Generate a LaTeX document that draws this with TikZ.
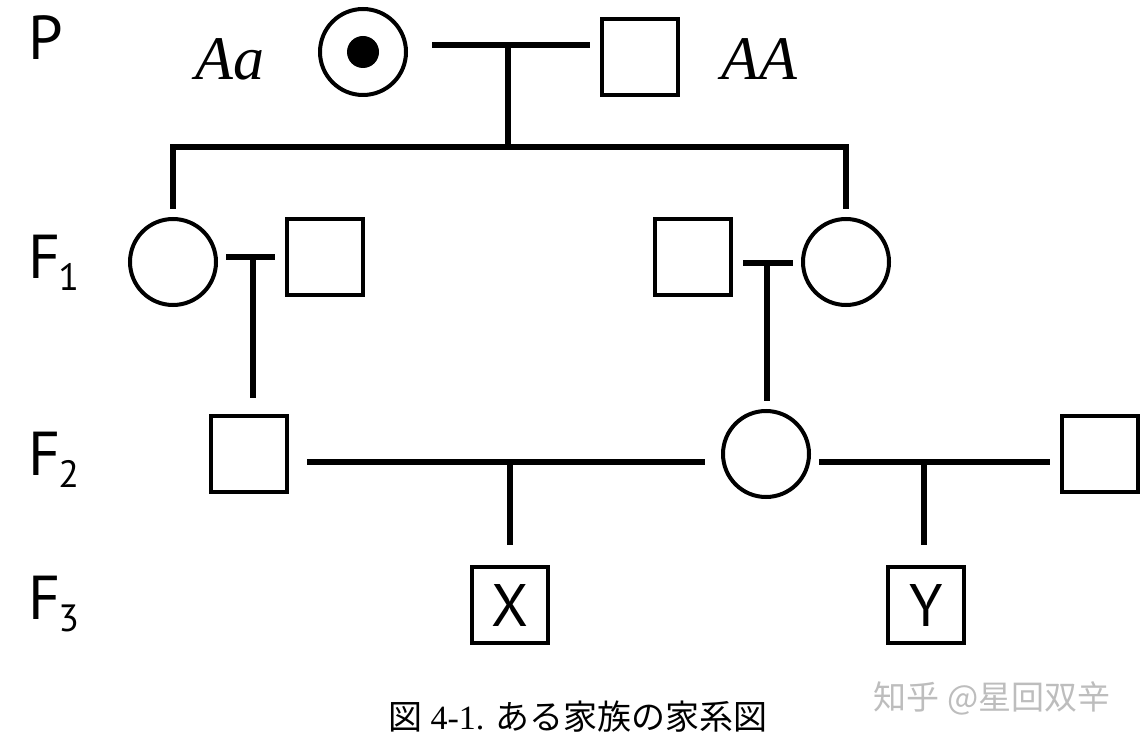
\documentclass[tikz,border=0pt]{standalone}
\usepackage{fontspec}
\setmainfont{Liberation Serif}
\newfontfamily\gensans{PT Sans}
\newfontfamily\cjk{Noto Sans CJK JP}
\newfontfamily\cjksc{Noto Sans CJK SC}
\usetikzlibrary{positioning,calc}
\usepackage{xcolor}
\definecolor{wmgray}{HTML}{BDBDBD}
\newcommand\gensub[1]{\kern-2pt\raisebox{-12pt}{\fontsize{38}{38}\selectfont #1}}
\tikzset{
  male/.style    = {draw, line width=4pt, rectangle, minimum size=76pt,
                    inner sep=0pt, outer sep=12pt},
  female/.style  = {draw, line width=4pt, circle, minimum size=86pt,
                    inner sep=0pt, outer sep=10pt},
  couple/.style  = {line width=6.5pt},
  descent/.style = {line width=6pt, line join=miter},
  genlab/.style  = {anchor=base west, inner sep=0pt,
                    font=\gensans\fontsize{62}{62}\selectfont},
  geno/.style    = {anchor=base, inner sep=0pt,
                    font=\itshape\fontsize{62}{62}\selectfont},
  tag/.style     = {font=\gensans\fontsize{60}{60}\selectfont},
}

\begin{document}
\begin{tikzpicture}[x=1pt,y=-1pt]
\useasboundingbox (0,0) rectangle (1145,743);
\foreach \y/\lab in {60/P, 278/{F\gensub{1}}, 475/{F\gensub{2}}, 619/{F\gensub{3}}}{
  \node[genlab] (gen\y) at (28,\y) {\lab};}
% P
\node[female] (pf) at (363,52) {};
\fill (pf.center) circle (16pt);
\node[male] (pm) at (640,57) {};
\node[geno] (pfgeno) at (230,80) {Aa};
\node[geno] (pmgeno) at (759,80) {AA};
\coordinate (pj) at (508,45);
\coordinate (psib) at (508,147);
\draw[couple,shorten <=16pt] (pf.east |- pj) -- (pm.west |- pj);
\draw[descent] (pj) -- (psib);
% F1
\node[female] (f1l) at (173,262) {};
\node[male] (f1lm) at (325,257) {};
\node[male] (f1rm) at (693,257) {};
\node[female] (f1r) at (846,262) {};
\draw[descent] (f1l.north) -- (f1l.north |- psib) -- (f1r.north |- psib) -- (f1r.north);
\coordinate (f1lj) at (253,257);
\coordinate (f1rj) at (767,263);
\draw[couple] (f1l.east |- f1lj) -- (f1lm.west |- f1lj);
\draw[couple] (f1rm.east |- f1rj) -- (f1r.west |- f1rj);
% F2
\node[male] (f2l) at (249,454) {};
\node[female] (f2c) at (766,454) {};
\node[male] (f2r) at (1100,454) {};
\draw[descent,shorten >=6pt] (f1lj) -- (f1lj |- f2l.north);
\draw[descent] (f1rj) -- (f1rj |- f2c.north);
\coordinate (f2lj) at (510,462);
\coordinate (f2rj) at (924,462);
\draw[couple,shorten <=8pt,shorten >=8pt] (f2l.east |- f2lj) -- (f2c.west |- f2lj);
\draw[couple] (f2c.east |- f2rj) -- (f2r.west |- f2rj);
% F3
\node[male,tag] (f3x) at (510,605) {X};
\node[male,tag] (f3y) at (926,605) {Y};
\draw[descent,shorten >=10pt] (f2lj) -- (f2lj |- f3x.north);
\draw[descent,shorten >=10pt] (f2rj) -- (f2rj |- f3y.north);
% caption and mark
\node[anchor=base,inner sep=0pt,font=\fontsize{34}{34}\selectfont] (caption) at (578,729)
  {{\cjk 図} 4-1. {\cjk ある家族の家系図}};
\node[anchor=base,inner sep=0pt,text=wmgray,font=\cjksc\fontsize{33}{33}\selectfont] (mark) at (992,709)
  {知乎 @星回双辛};
\end{tikzpicture}
\end{document}
